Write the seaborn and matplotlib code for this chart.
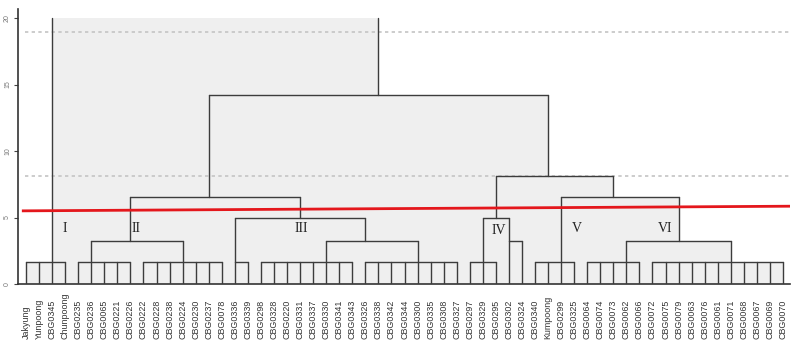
import matplotlib
matplotlib.use("Agg")
import matplotlib.pyplot as plt
import seaborn as sns

# leaves, left to right
leaf_labels = [
    "Jakyung", "Yunpoong", "CBG0345", "Chunpoong", "CBG0235", "CBG0236", "CBG0065",
    "CBG0221", "CBG0226", "CBG0222", "CBG0228", "CBG0238", "CBG0224", "CBG0230",
    "CBG0237", "CBG0078", "CBG0336", "CBG0339", "CBG0298", "CBG0328", "CBG0220",
    "CBG0331", "CBG0337", "CBG0330", "CBG0341", "CBG0343", "CBG0326", "CBG0338",
    "CBG0342", "CBG0344", "CBG0300", "CBG0335", "CBG0308", "CBG0327", "CBG0297",
    "CBG0329", "CBG0295", "CBG0302", "CBG0324", "CBG0340", "Kumpoong", "CBG0299",
    "CBG0325", "CBG0064", "CBG0074", "CBG0073", "CBG0062", "CBG0066", "CBG0072",
    "CBG0075", "CBG0079", "CBG0063", "CBG0076", "CBG0061", "CBG0071", "CBG0068",
    "CBG0067", "CBG0069", "CBG0070",
]

# groups of leaves tied at the lowest level (1-based leaf numbers)
group_names = ["A", "B", "C", "D", "E", "F", "G", "H", "J", "K"]
group_first = [1, 5, 10, 17, 19, 27, 35, 40, 44, 49]
group_last = [4, 9, 16, 18, 26, 34, 37, 43, 48, 59]
group_anchor = [3, 6, 13, 17, 24, 31, 36, 42, 47, 55]
group_height = 1.65

# single leaves that join above the group level
single_names = ["L38", "L39"]
single_leaf = [38, 39]

# merges: node, left child, right child, height, leaf the stem rises from
merge_names = ["BC", "EF", "III", "II_III", "P", "IV", "JK", "V_VI", "IV_VI", "II_VI", "root"]
merge_left = ["B", "E", "D", "BC", "L38", "G", "J", "H", "IV", "II_III", "A"]
merge_right = ["C", "F", "EF", "III", "L39", "P", "K", "JK", "V_VI", "IV_VI", "II_VI"]
merge_height = [3.25, 3.25, 4.95, 6.55, 3.25, 4.95, 3.25, 6.55, 8.15, 14.2, 20.0]
merge_anchor = [9, 27, 22, 15, 38, 37, 51, 46, 41, 28, None]

cluster_numerals = ["I", "II", "III", "IV", "V", "VI"]
numeral_pos = [4.0, 9.45, 22.1, 37.25, 43.2, 50.0]
numeral_y = [4.15, 4.15, 4.15, 4.0, 4.15, 4.15]

cut_left, cut_right = 5.5, 5.85
guide_levels = [18.95, 8.12]

sns.set_style("white")
plt.rcParams["font.family"] = ["Liberation Sans", "DejaVu Sans"]

line_col = "#3c3c3c"
fill_col = "#efefef"

fig = plt.figure(figsize=(7.97, 3.52), dpi=100)
ax = fig.add_axes([18 / 797, 1 - 284 / 352, 772 / 797, 275 / 352])

# node position / height lookup
pos, hgt = {}, {}
for n, a in zip(group_names, group_anchor):
    pos[n], hgt[n] = a, group_height
for n, l in zip(single_names, single_leaf):
    pos[n], hgt[n] = l, 0.0
for n, a, h in zip(merge_names, merge_anchor, merge_height):
    pos[n], hgt[n] = a, h

# shaded boxes under every bracket
for f, l in zip(group_first, group_last):
    ax.fill_between([f, l], 0, group_height, color=fill_col, lw=0, zorder=1)
for n, lc, rc, h in zip(merge_names, merge_left, merge_right, merge_height):
    ax.fill_between([pos[lc], pos[rc]], 0, h, color=fill_col, lw=0, zorder=1)

# tied groups: comb of leaf stems
for f, l in zip(group_first, group_last):
    ax.plot([f, l], [group_height] * 2, color=line_col, lw=1.0, zorder=3)
    for i in range(f, l + 1):
        ax.plot([i, i], [0, group_height], color=line_col, lw=1.0, zorder=3)

# brackets
for n, lc, rc, h in zip(merge_names, merge_left, merge_right, merge_height):
    xl, xr = pos[lc], pos[rc]
    ax.plot([xl, xl], [hgt[lc], h], color=line_col, lw=1.0, zorder=3)
    ax.plot([xr, xr], [hgt[rc], h], color=line_col, lw=1.0, zorder=3)
    if n != "root":  # the root bar is not drawn in the source
        ax.plot([xl, xr], [h, h], color=line_col, lw=1.0, zorder=3)

# dotted guides and the red cut line
for g in guide_levels:
    ax.plot([0.009, 1.0], [g, g], transform=ax.get_yaxis_transform(),
            color="#c4c4c4", lw=1.2, ls=(0, (2, 2)), zorder=2)
ax.plot([0.005, 1.0], [cut_left, cut_right], transform=ax.get_yaxis_transform(),
        color="#e4171c", lw=2.0, zorder=5, solid_capstyle="butt")

for t, x, y in zip(cluster_numerals, numeral_pos, numeral_y):
    ax.text(x, y, t, ha="center", va="center", fontsize=10,
            family=["Liberation Serif"], color="#222222", zorder=6)

for i, lab in enumerate(leaf_labels, start=1):
    ax.text(i, -4.1, lab, rotation=90, ha="center", va="bottom",
            fontsize=6.4, color="#333333", clip_on=False)

ax.set_xlim(1 - 8 / 13.05, 59 + 7 / 13.05)
ax.set_ylim(0, 20.68)
ax.set_xticks([])
ax.set_yticks([0, 5, 10, 15, 20])
ax.tick_params(axis="y", length=3, width=0.8, color="#444444", pad=2,
               labelsize=5, labelcolor="#777777", left=True)
for lab in ax.get_yticklabels():
    lab.set_rotation(90)
    lab.set_va("center")
sns.despine(ax=ax, top=True, right=True)
for s in ("left", "bottom"):
    ax.spines[s].set_color("#333333")
    ax.spines[s].set_linewidth(1.2)

fig.savefig("out.png", dpi=100)
